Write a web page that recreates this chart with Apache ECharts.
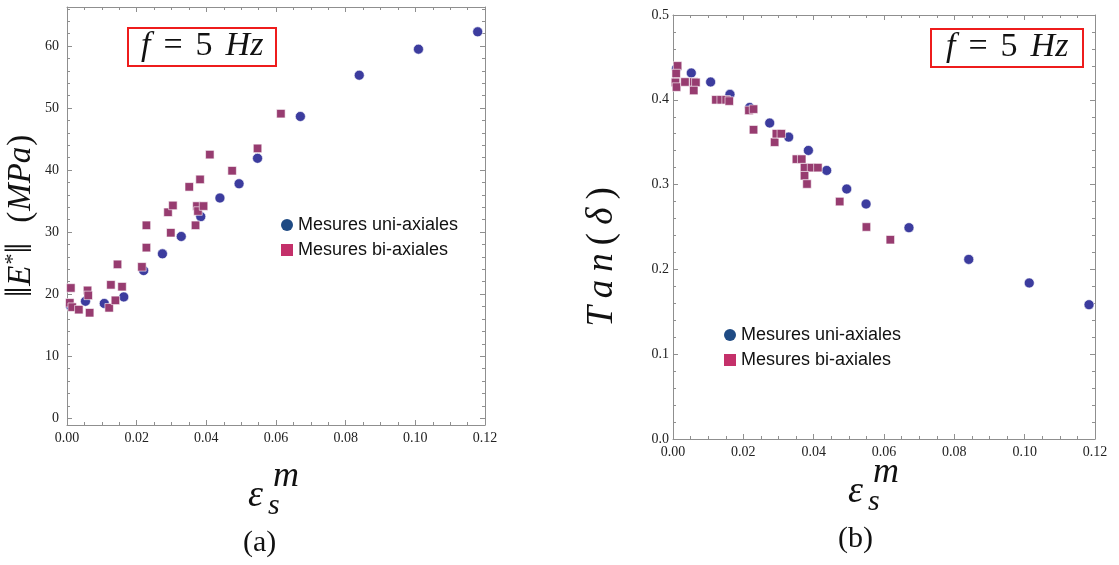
<!DOCTYPE html>
<html>
<head>
<meta charset="utf-8">
<script src="https://cdn.jsdelivr.net/npm/echarts@6/dist/echarts.min.js"></script>
<style>html,body{margin:0;padding:0;background:#fff;}#c{width:1119px;height:565px;}</style>
</head>
<body>
<div id="c"></div>
<script>
// ---- data (a): modulus ||E*|| (MPa) vs strain ----
var uniA_x = [0.0010, 0.0053, 0.0107, 0.0163, 0.0220, 0.0274, 0.0328, 0.0384, 0.0439, 0.0494, 0.0547, 0.0670, 0.0839, 0.1009, 0.1179];
var uniA_y = [18.1, 18.85, 18.5, 19.55, 23.8, 26.5, 29.3, 32.5, 35.5, 37.8, 41.9, 48.65, 55.3, 59.5, 62.3];
var biA_x = [0.0011, 0.0008, 0.0015, 0.0034, 0.0059, 0.0061, 0.0065, 0.0121, 0.0126, 0.0139, 0.0145, 0.0158, 0.0215, 0.0228, 0.0228, 0.0290, 0.0298, 0.0304, 0.0351, 0.0369, 0.0373, 0.0376, 0.0382, 0.0392, 0.0410, 0.0474, 0.0547, 0.0614];
var biA_y = [21.0, 18.6, 17.9, 17.5, 20.6, 19.8, 17.0, 17.8, 21.5, 19.0, 24.8, 21.2, 24.4, 27.5, 31.1, 33.2, 29.9, 34.3, 37.3, 31.1, 34.2, 33.4, 38.5, 34.2, 42.5, 39.9, 43.5, 49.1];
// ---- data (b): Tan(delta) vs strain ----
var uniB_x = [0.0010, 0.0052, 0.0107, 0.0162, 0.0218, 0.0275, 0.0329, 0.0385, 0.0437, 0.0494, 0.0549, 0.0671, 0.0841, 0.1013, 0.1183];
var uniB_y = [0.437, 0.4316, 0.421, 0.4064, 0.391, 0.3726, 0.356, 0.3403, 0.3167, 0.2948, 0.2771, 0.2492, 0.2118, 0.184, 0.1584];
var biB_x = [0.0013, 0.0009, 0.0007, 0.0010, 0.0034, 0.0059, 0.0065, 0.0059, 0.0122, 0.0137, 0.0151, 0.0160, 0.0216, 0.0229, 0.0229, 0.0289, 0.0294, 0.0308, 0.0351, 0.0366, 0.0374, 0.0394, 0.0412, 0.0374, 0.0381, 0.0474, 0.0550, 0.0618];
var biB_y = [0.440, 0.431, 0.4205, 0.415, 0.421, 0.421, 0.4205, 0.411, 0.400, 0.400, 0.400, 0.3985, 0.3875, 0.389, 0.3647, 0.350, 0.360, 0.360, 0.330, 0.330, 0.320, 0.320, 0.320, 0.3105, 0.3007, 0.280, 0.250, 0.235];
// ---- ticks ----
var ticksA_major = [0, 10, 20, 30, 40, 50, 60];
var ticksA_minor = [2, 4, 6, 8, 12, 14, 16, 18, 22, 24, 26, 28, 32, 34, 36, 38, 42, 44, 46, 48, 52, 54, 56, 58, 62, 64, 66];
var seriesNames = ['Mesures uni-axiales', 'Mesures bi-axiales'];

function zip(a, b) { return a.map(function (v, i) { return [v, b[i]]; }); }

var FRAME = '#8f8f8f';
var SERIF = '"Liberation Serif", "DejaVu Serif", serif';
var SANS = '"Liberation Sans", Arial, sans-serif';
var CIRCLE = '#3c3c9e';
var SQUARE = '#973c70';
var INK = '#111';

function xAx(grid, pos, labels) {
  return {
    type: 'value', gridIndex: grid, position: pos, min: 0, max: 0.12, interval: 0.02,
    axisLine: { show: true, onZero: false, lineStyle: { color: FRAME, width: 1 } },
    axisTick: { show: true, inside: true, length: 5, lineStyle: { color: FRAME } },
    minorTick: { show: true, splitNumber: 4, length: 3, lineStyle: { color: FRAME } },
    splitLine: { show: false },
    axisLabel: { show: labels, margin: 6, color: '#222', fontFamily: SERIF, fontSize: 14,
      formatter: function (v) { return v.toFixed(2); } }
  };
}
function yAxA(pos, values, len, labels, line) {
  return {
    type: 'value', gridIndex: 0, position: pos, min: -1.1, max: 66.3,
    axisLine: { show: line, onZero: false, lineStyle: { color: FRAME, width: 1 } },
    axisTick: { show: true, inside: true, length: len, customValues: values, lineStyle: { color: FRAME } },
    splitLine: { show: false },
    axisLabel: { show: labels, customValues: values, margin: 8, color: '#222', fontFamily: SERIF, fontSize: 14 }
  };
}
function yAxB(pos, labels) {
  return {
    type: 'value', gridIndex: 1, position: pos, min: 0, max: 0.5, interval: 0.1,
    axisLine: { show: true, onZero: false, lineStyle: { color: FRAME, width: 1 } },
    axisTick: { show: true, inside: true, length: 5, lineStyle: { color: FRAME } },
    minorTick: { show: true, splitNumber: 5, length: 3, lineStyle: { color: FRAME } },
    splitLine: { show: false },
    axisLabel: { show: labels, margin: 4, color: '#222', fontFamily: SERIF, fontSize: 14,
      formatter: function (v) { return v.toFixed(1); } }
  };
}

function epsName(gap, pad) {
  return {
    name: '{gap|}{m|m}\n{e|ε}{s|s}',
    nameLocation: 'middle', nameGap: gap, nameMoveOverlap: false,
    nameTextStyle: {
      padding: pad,
      rich: {
        gap: { width: 20, fontSize: 10, lineHeight: 18 },
        m: { width: 36, align: 'left', fontFamily: SERIF, fontStyle: 'italic', fontSize: 36, lineHeight: 18, color: INK },
        e: { width: 20, align: 'left', fontFamily: SERIF, fontStyle: 'italic', fontSize: 38, lineHeight: 20, color: INK },
        s: { width: 36, align: 'left', fontFamily: SERIF, fontStyle: 'italic', fontSize: 30, lineHeight: 20, padding: [20, 0, 0, 0], color: INK }
      }
    }
  };
}

var xAxes = [
  Object.assign(xAx(0, 'bottom', true), epsName(43, [0, 0, 0, 0])),
  xAx(0, 'top', false),
  Object.assign(xAx(1, 'bottom', true), epsName(25, [0, 16, 0, 0])),
  xAx(1, 'top', false)
];

var yAxes = [
  Object.assign(yAxA('left', ticksA_major, 5, true, true), {
    name: '{b|‖}{i|E}{sup|*}{b|‖}{sp|}{n|(}{i|MPa}{n|)}', nameLocation: 'middle', nameGap: 27,
    nameTextStyle: { rich: {
      b: { fontFamily: SERIF, fontSize: 38, color: INK },
      n: { fontFamily: SERIF, fontSize: 33, color: INK },
      sp: { width: 20, fontSize: 10 },
      i: { fontFamily: SERIF, fontStyle: 'italic', fontSize: 33, color: INK, padding: [0, 1, 0, 1] },
      sup: { fontFamily: SERIF, fontSize: 22, color: INK, verticalAlign: 'top', padding: [0, 0, 12, 0] }
    } }
  }),
  yAxA('left', ticksA_minor, 3, false, false),
  yAxA('right', ticksA_major, 5, false, true),
  yAxA('right', ticksA_minor, 3, false, false),
  Object.assign(yAxB('left', true), {
    name: '{i|T}{i|a}{i|n}{n|(}{i|δ}{n|)}', nameLocation: 'middle', nameGap: 52,
    nameTextStyle: { padding: [0, 60, 0, 0], rich: {
      n: { fontFamily: SERIF, fontSize: 37, color: INK, padding: [0, 4, 0, 4] },
      i: { fontFamily: SERIF, fontStyle: 'italic', fontSize: 37, color: INK, padding: [0, 4, 0, 4] }
    } }
  }),
  yAxB('right', false)
];

function sc(name, xi, yi, data, sym, size, color) {
  return {
    type: 'scatter', name: name, xAxisIndex: xi, yAxisIndex: yi, data: data,
    symbol: sym, symbolSize: size,
    itemStyle: { color: color, opacity: 1, borderColor: 'rgba(255,255,255,0.75)', borderWidth: 0.8 },
    emphasis: { disabled: true }
  };
}

function boxTitle(left, top, padX) {
  return {
    text: '{i|f}{eq|=}{n|5}{i|Hz}', left: left, top: top,
    borderColor: '#ee1c1c', borderWidth: 2, padding: [2, padX, 3, padX],
    textStyle: { fontWeight: 'normal', rich: {
      i: { fontFamily: SERIF, fontStyle: 'italic', fontWeight: 'normal', fontSize: 34, color: INK, lineHeight: 35 },
      eq: { fontFamily: SERIF, fontWeight: 'normal', fontSize: 34, color: INK, padding: [0, 13, 0, 13], lineHeight: 35 },
      n: { fontFamily: SERIF, fontWeight: 'normal', fontSize: 34, color: INK, padding: [0, 13, 0, 0], lineHeight: 35 }
    } }
  };
}

function legend(left, top) {
  return {
    orient: 'vertical', left: left, top: top, padding: 0, itemWidth: 12, itemHeight: 12, itemGap: 7,
    selectedMode: false,
    textStyle: { fontFamily: SANS, fontSize: 18, color: INK },
    data: [
      { name: seriesNames[0], icon: 'circle', itemStyle: { color: '#1f4b84', borderWidth: 0 } },
      { name: seriesNames[1], icon: 'rect', itemStyle: { color: '#c4306a', borderWidth: 0 } }
    ]
  };
}

var chart = echarts.init(document.getElementById('c'), null, { renderer: 'canvas' });
chart.setOption({
  animation: false,
  backgroundColor: '#fff',
  grid: [
    { left: 67, top: 7, width: 418, height: 418, containLabel: false, outerBoundsMode: 'none' },
    { left: 673, top: 15, width: 422, height: 424, containLabel: false, outerBoundsMode: 'none' }
  ],
  xAxis: xAxes,
  yAxis: yAxes,
  title: [
    boxTitle(128, 27, 13),
    boxTitle(931, 28, 15),
    { text: '(a)', left: 243, top: 528, padding: 0, textStyle: { fontFamily: SERIF, fontWeight: 'normal', fontSize: 30, color: INK } },
    { text: '(b)', left: 838, top: 524, padding: 0, textStyle: { fontFamily: SERIF, fontWeight: 'normal', fontSize: 30, color: INK } }
  ],
  legend: [legend(281, 216), legend(724, 326)],
  series: [
    sc(seriesNames[0], 0, 0, zip(uniA_x, uniA_y), 'circle', 10, CIRCLE),
    sc(seriesNames[1], 0, 0, zip(biA_x, biA_y), 'rect', 8.5, SQUARE),
    sc(seriesNames[0], 2, 4, zip(uniB_x, uniB_y), 'circle', 10, CIRCLE),
    sc(seriesNames[1], 2, 4, zip(biB_x, biB_y), 'rect', 8.5, SQUARE)
  ]
});
</script>
</body>
</html>
